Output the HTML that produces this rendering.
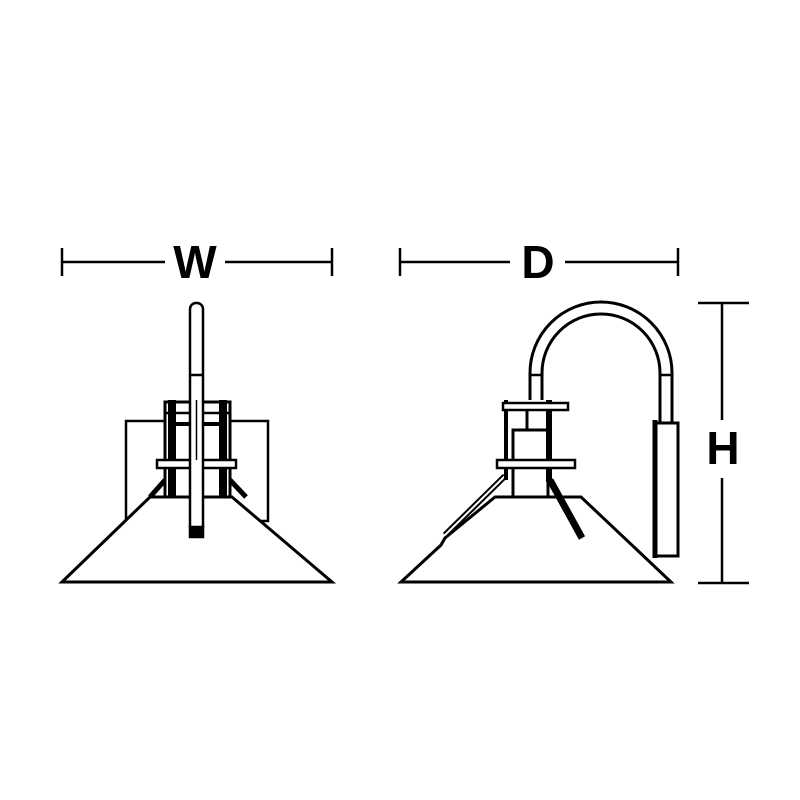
<!DOCTYPE html>
<html><head><style>body{margin:0;background:#fff}svg{display:block}</style></head><body>
<svg width="800" height="800" viewBox="0 0 800 800" xmlns="http://www.w3.org/2000/svg">
<g stroke="#000" stroke-width="2.5" fill="none">
<!-- dimension lines -->
<line x1="62" y1="262" x2="165" y2="262"/><line x1="225" y1="262" x2="332" y2="262"/>
<line x1="62" y1="248" x2="62" y2="276"/><line x1="332" y1="248" x2="332" y2="276"/>
<line x1="400" y1="262" x2="510" y2="262"/><line x1="565" y1="262" x2="678" y2="262"/>
<line x1="400" y1="248" x2="400" y2="276"/><line x1="678" y1="248" x2="678" y2="276"/>
<line x1="722" y1="303" x2="722" y2="420"/><line x1="722" y1="478" x2="722" y2="583"/>
<line x1="698" y1="303" x2="749" y2="303"/><line x1="698" y1="583" x2="749" y2="583"/>

<!-- LEFT LAMP -->
<rect x="126" y="421" width="142" height="100" fill="#fff"/>
<path d="M62 582 L150 497 L232 497 L332 582 Z" fill="#fff" stroke-width="3"/>
<path d="M165 480 L150 497 M230 480 L246 497" stroke-width="5"/>
<rect x="165" y="402" width="65" height="95" fill="#fff" stroke-width="3"/>
<rect x="168" y="400" width="8" height="97" fill="#000" stroke="none"/>
<rect x="219" y="400" width="8" height="97" fill="#000" stroke="none"/>
<line x1="165" y1="413" x2="230" y2="413"/><line x1="176" y1="424" x2="219" y2="424" stroke-width="4"/>
<rect x="157" y="460" width="79" height="8" fill="#fff"/>
<rect x="190" y="303" width="13" height="230" rx="6" fill="#fff"/>
<line x1="190" y1="375" x2="203" y2="375"/>
<rect x="190" y="527" width="13" height="10" fill="#000"/>
<line x1="196.5" y1="400" x2="196.5" y2="460" stroke-width="1.5"/>

<!-- RIGHT LAMP -->
<path d="M536 400 L536 373 A65 65 0 0 1 666 373 L666 425" stroke-width="15"/>
<path d="M536 400 L536 373 A65 65 0 0 1 666 373 L666 425" stroke="#fff" stroke-width="9"/>
<line x1="530" y1="375" x2="542" y2="375"/><line x1="660" y1="375" x2="672" y2="375"/>
<rect x="656" y="423" width="22" height="133" fill="#fff" stroke-width="3"/>
<line x1="655" y1="420" x2="655" y2="558" stroke-width="5"/>
<path d="M401 582 L441 545 L445 538 L495 497 L581 497 L671 582 Z" fill="#fff" stroke-width="3"/>
<path d="M505 476 L445 535" stroke-width="6"/><path d="M505 476 L445 535" stroke="#fff" stroke-width="2"/>
<path d="M550 480 L582 538" stroke-width="7"/>
<rect x="513" y="430" width="35" height="67" fill="#fff" stroke-width="3"/>
<line x1="506" y1="400" x2="506" y2="480" stroke-width="4"/>
<line x1="549" y1="400" x2="549" y2="482" stroke-width="6"/>
<line x1="527" y1="408" x2="527" y2="430" stroke-width="3"/>
<rect x="503" y="403" width="65" height="7" fill="#fff"/>
<rect x="497" y="460" width="78" height="8" fill="#fff"/>
</g>
<g font-family="Liberation Sans, sans-serif" font-weight="bold" font-size="46" text-anchor="middle">
<text x="195" y="278">W</text>
<text x="538" y="278">D</text>
<text x="723" y="464">H</text>
</g>
</svg>
</body></html>
